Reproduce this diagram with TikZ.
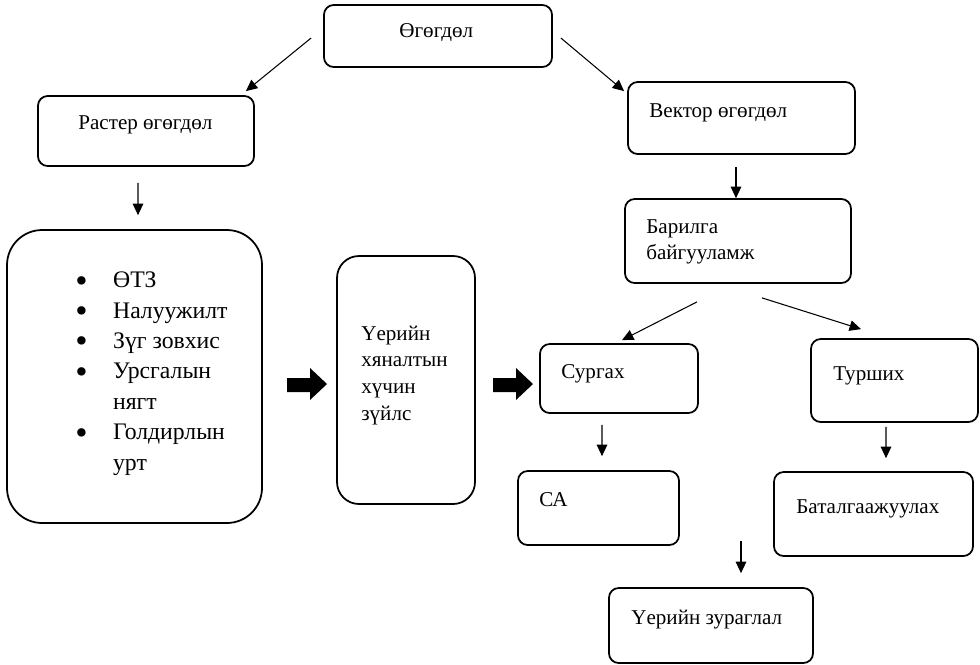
\documentclass[tikz,border=0pt]{standalone}
\usepackage{fontspec}
\setmainfont{Liberation Serif}
\usetikzlibrary{arrows.meta,calc,fit}
\newcommand\lbul{\makebox[21.5pt][l]{\raisebox{-2.5pt}[0pt][0pt]{\fontsize{20}{20}\selectfont\textbullet}}}
\newcommand\lgap{\hspace*{21.5pt}}

\begin{document}
\begin{tikzpicture}[x=0.02cm,y=-0.02cm,
  box/.style={draw,line width=1pt,rounded corners=5.5pt,inner sep=0pt},
  txt/.style={anchor=base west,inner sep=0pt,align=left,font=\fontsize{12}{15}\selectfont},
  arr/.style={-{Triangle[length=6.5pt,width=6pt]},line width=0.6pt}]
  \useasboundingbox (0,0) rectangle (980,664);

  \node[box,fit={(324,5) (552,67)}] (data) {};
  \node[box,fit={(38,96) (254,166)}] (raster) {};
  \node[box,rounded corners=20pt,fit={(7,230) (262,523)}] (factors) {};
  \node[box,rounded corners=12.5pt,fit={(337,256) (475,504)}] (flood) {};
  \node[box,fit={(628,82) (855,154)}] (vector) {};
  \node[box,fit={(625,199) (851,283)}] (building) {};
  \node[box,fit={(540,344) (698,413)}] (train) {};
  \node[box,fit={(811,339) (978,422)}] (test) {};
  \node[box,fit={(518,471) (679,545)}] (sa) {};
  \node[box,fit={(774,472) (973,556)}] (valid) {};
  \node[box,fit={(609,588) (813,663)}] (map) {};

  \node[txt] (data-t) at (399,37) {Өгөгдөл};
  \node[txt] (raster-t) at (78,129) {Растер өгөгдөл};
  \node[txt,font=\fontsize{13.5}{17.3}\selectfont] (factors-t) at (75,470)
    {\lbul ӨТЗ\\\lbul Налуужилт\\\lbul Зүг зовхис\\\lbul Урсгалын\\\lgap нягт\\\lbul Голдирлын\\\lgap урт};
  \node[txt,font=\fontsize{12}{15.1}\selectfont] (flood-t) at (361,420) {Үерийн\\хяналтын\\хүчин\\зүйлс};
  \node[txt] (vector-t) at (649,117) {Вектор өгөгдөл};
  \node[txt,font=\fontsize{12}{14.7}\selectfont] (building-t) at (646,259) {Барилга\\байгууламж};
  \node[txt] (train-t) at (561,378) {Сургах};
  \node[txt] (test-t) at (833,380) {Турших};
  \node[txt] (sa-t) at (539,506) {СА};
  \node[txt] (valid-t) at (796,513) {Баталгаажуулах};
  \node[txt] (map-t) at (631,624) {Үерийн зураглал};

  \draw[arr] ($(data.west)+(-12,2)$) -- ($(raster.north east)+(-9,-4)$);
  \draw[arr] ($(data.east)+(8,2)$) -- ($(vector.north west)+(-3,10)$);
  \draw[arr] ($(raster.south)+(-8,16)$) -- ($(factors.north)+(3.5,-14)$);
  \draw[arr] ($(vector.south)+(-5.5,12)$) -- ($(building.north)+(-2,0)$);
  \draw[arr] ($(building.south)+(-41,18)$) -- ($(train.north)+(3,-3)$);
  \draw[arr] ($(building.south)+(24,14)$) -- ($(test.north)+(-33.5,-9)$);
  \draw[arr] ($(train.south)+(-17,11)$) -- ($(sa.north)+(3.5,-14)$);
  \draw[arr] ($(test.south)+(-8.5,4)$) -- ($(valid.north)+(12.5,-13)$);
  \coordinate (gap) at (741,541);
  \draw[arr] (gap) -- ($(map.north)+(30,-14)$);

  \foreach \x in {287,493}
    \fill[shift={(\x,0)}] (0,378) -- (23,378) -- (23,368) -- (40,384) -- (23,400) -- (23,392) -- (0,392) -- cycle;
\end{tikzpicture}
\end{document}
